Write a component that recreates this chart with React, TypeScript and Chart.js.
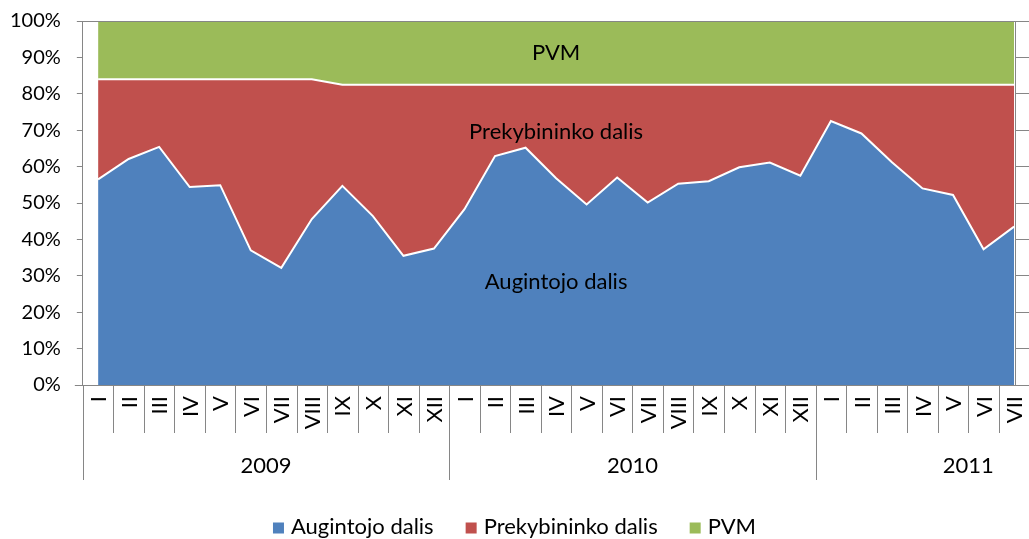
import React, { useEffect, useRef } from "react";
import { Chart, registerables } from "chart.js";

Chart.register(...registerables);

// ---------- data ----------
const months = [
  "I", "II", "III", "IV", "V", "VI", "VII", "VIII", "IX", "X", "XI", "XII",
  "I", "II", "III", "IV", "V", "VI", "VII", "VIII", "IX", "X", "XI", "XII",
  "I", "II", "III", "IV", "V", "VI", "VII",
];
const years = ["2009", "2010", "2011"];
const monthsPerYear = [12, 12, 7];

const seriesNames = ["Augintojo dalis", "Prekybininko dalis", "PVM"];

const augintojo = [
  56.5, 62.1, 65.4, 54.4, 54.9, 37.0, 32.2, 45.6, 54.7, 46.4, 35.5, 37.5,
  48.3, 62.9, 65.2, 56.8, 49.6, 57.0, 50.1, 55.3, 56.0, 59.8, 61.1, 57.5,
  72.5, 69.1, 61.2, 54.0, 52.2, 37.3, 43.5,
];
const prekybininko = [
  27.5, 21.9, 18.6, 29.6, 29.1, 47.0, 51.8, 38.4, 27.8, 36.1, 47.0, 45.0,
  34.2, 19.6, 17.3, 25.7, 32.9, 25.5, 32.4, 27.2, 26.5, 22.7, 21.4, 25.0,
  10.0, 13.4, 21.3, 28.5, 30.3, 45.2, 39.0,
];
const pvm = [
  16.0, 16.0, 16.0, 16.0, 16.0, 16.0, 16.0, 16.0, 17.5, 17.5, 17.5, 17.5,
  17.5, 17.5, 17.5, 17.5, 17.5, 17.5, 17.5, 17.5, 17.5, 17.5, 17.5, 17.5,
  17.5, 17.5, 17.5, 17.5, 17.5, 17.5, 17.5,
];

// ---------- styles ----------
const FONT_FAMILY = "Lato";
const FONT_SIZE = 22;
const TICK_FONT_SIZE = 20;
const AXIS_COLOR = "#868686";
const TEXT_COLOR = "#000000";
const COLORS = ["#4F81BD", "#C0504D", "#9BBB59"];
const LABEL_INDEX = 15; // category where series names are placed
const CANVAS_SHIFT = 7; // canvas is drawn slightly above the page top

const toXY = (arr: number[]) => arr.map((v, i) => ({ x: i, y: v }));

const axisPlugin = {
  id: "groupedAxis",
  afterDraw(chart: any) {
    const { ctx, chartArea, scales } = chart;
    const x = scales.x;
    const { left, right, top, bottom } = chartArea;
    ctx.save();
    ctx.strokeStyle = AXIS_COLOR;
    ctx.lineWidth = 1;
    // top border
    ctx.beginPath();
    ctx.moveTo(left, Math.round(top) + 0.5);
    ctx.lineTo(right, Math.round(top) + 0.5);
    ctx.stroke();
    // bottom axis line
    ctx.beginPath();
    ctx.moveTo(left - 8, Math.round(bottom) + 0.5);
    ctx.lineTo(right, Math.round(bottom) + 0.5);
    ctx.stroke();
    // separators
    const yearStarts: number[] = [];
    let acc = 0;
    monthsPerYear.forEach((n) => {
      yearStarts.push(acc);
      acc += n;
    });
    for (let k = 0; k <= months.length; k++) {
      const px = Math.round(x.getPixelForValue(k - 0.5)) + 0.5;
      const isYear = yearStarts.includes(k);
      ctx.beginPath();
      ctx.moveTo(px, bottom);
      ctx.lineTo(px, bottom + (isYear ? 95 : 48));
      ctx.stroke();
    }
    // month labels
    ctx.fillStyle = TEXT_COLOR;
    ctx.font = `${FONT_SIZE}px ${FONT_FAMILY}`;
    months.forEach((m, i) => {
      const px = x.getPixelForValue(i);
      ctx.save();
      ctx.translate(px, bottom + 11);
      ctx.rotate(-Math.PI / 2);
      ctx.textAlign = "right";
      ctx.textBaseline = "middle";
      ctx.fillText(m, 0, 1);
      ctx.restore();
    });
    // year labels
    ctx.textAlign = "center";
    ctx.textBaseline = "middle";
    years.forEach((yr, j) => {
      const start = yearStarts[j];
      const end = start + monthsPerYear[j] - 1;
      let center = (start + end) / 2;
      if (j === years.length - 1) center = start + 4.5; // label box clipped in source
      ctx.fillText(yr, x.getPixelForValue(center), bottom + 81);
    });
    // legend
    const box = 11;
    const gapBox = 7;
    const gapItem = 32;
    const widths = seriesNames.map((s) => ctx.measureText(s).width);
    const total =
      widths.reduce((a, b) => a + b, 0) +
      seriesNames.length * (box + gapBox) +
      (seriesNames.length - 1) * gapItem;
    let lx = chart.width / 2 - total / 2;
    const ly = bottom + 142;
    ctx.textAlign = "left";
    seriesNames.forEach((s, i) => {
      ctx.fillStyle = COLORS[i];
      ctx.fillRect(lx, ly - box / 2 + 1, box, box);
      lx += box + gapBox;
      ctx.fillStyle = TEXT_COLOR;
      ctx.fillText(s, lx, ly);
      lx += widths[i] + gapItem;
    });
    ctx.restore();
  },
};

const bandLabelPlugin = {
  id: "bandLabels",
  afterDatasetsDraw(chart: any) {
    const { ctx, scales } = chart;
    const x = scales.x;
    const y = scales.y;
    ctx.save();
    ctx.fillStyle = TEXT_COLOR;
    ctx.font = `${FONT_SIZE}px ${FONT_FAMILY}`;
    ctx.textAlign = "center";
    ctx.textBaseline = "middle";
    let base = 0;
    chart.data.datasets.forEach((ds: any) => {
      const v = ds.data[LABEL_INDEX].y;
      const mid = base + v / 2;
      ctx.fillText(ds.label, x.getPixelForValue(LABEL_INDEX), y.getPixelForValue(mid));
      base += v;
    });
    ctx.restore();
  },
};

export default function App() {
  const ref = useRef<HTMLCanvasElement | null>(null);
  useEffect(() => {
    if (!ref.current) return;
    const series = [augintojo, prekybininko, pvm];
    const chart = new Chart(ref.current, {
      type: "line",
      data: {
        datasets: series.map((arr, i) => ({
          label: seriesNames[i],
          data: toXY(arr),
          backgroundColor: COLORS[i],
          borderColor: i === 2 ? "rgba(0,0,0,0)" : "#FFFFFF",
          borderWidth: i === 2 ? 0 : 2,
          fill: i === 0 ? "origin" : "-1",
          pointRadius: 0,
          tension: 0,
        })),
      },
      options: {
        responsive: false,
        animation: false,
        layout: { padding: { left: -6, top: 5, right: 0, bottom: 0 } },
        plugins: {
          legend: { display: false },
          tooltip: { enabled: false },
        },
        scales: {
          x: {
            type: "linear",
            min: -0.5,
            max: 30.03,
            ticks: { display: false },
            grid: { display: false },
            border: { display: false },
            afterFit: (s: any) => {
              s.height = 154;
            },
          },
          y: {
            stacked: true,
            min: 0,
            max: 100,
            position: "left",
            ticks: {
              stepSize: 10,
              padding: 16,
              color: TEXT_COLOR,
              font: { family: FONT_FAMILY, size: TICK_FONT_SIZE },
              callback: (v: any) => `${v}%`,
            },
            grid: { drawOnChartArea: false, tickLength: 6, color: AXIS_COLOR },
            border: { color: AXIS_COLOR },
          },
          y2: {
            type: "linear",
            min: 0,
            max: 100,
            position: "right",
            ticks: { stepSize: 10, display: false },
            grid: { drawOnChartArea: false, tickLength: 14, color: AXIS_COLOR },
            border: { color: AXIS_COLOR },
          },
        },
      },
      plugins: [bandLabelPlugin, axisPlugin],
    });
    return () => chart.destroy();
  }, []);
  return (
    <div style={{ position: "fixed", left: 0, top: 0, width: 1029, height: 539, overflow: "hidden", background: "#fff" }}>
      <canvas
        ref={ref}
        width={1029}
        height={539 + CANVAS_SHIFT}
        style={{ display: "block", marginTop: -CANVAS_SHIFT }}
      />
    </div>
  );
}
